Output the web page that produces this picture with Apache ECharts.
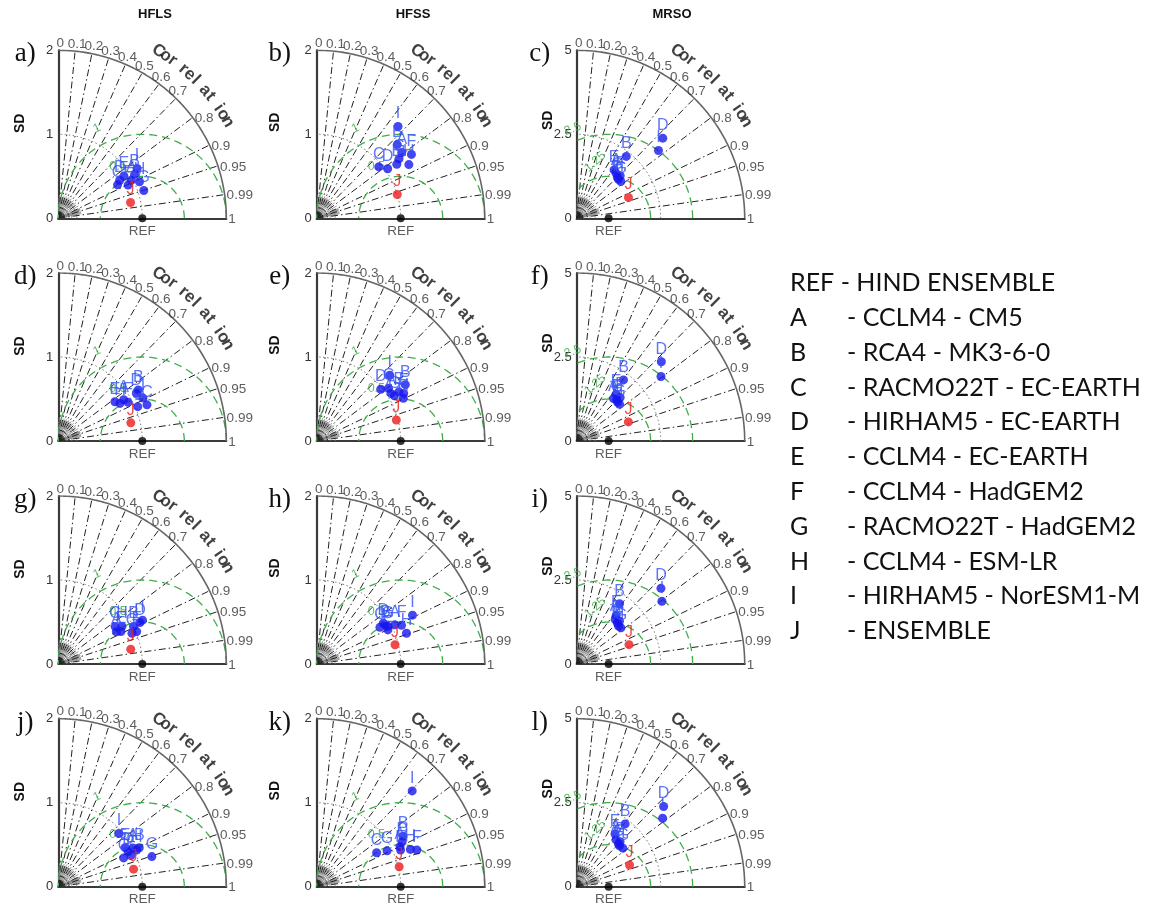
<!DOCTYPE html>
<html>
<head>
<meta charset="utf-8">
<script src="https://cdn.jsdelivr.net/npm/echarts@6/dist/echarts.min.js"></script>
<style>
html,body{margin:0;padding:0;background:#fff}
#chart{width:1164px;height:911px}
</style>
</head>
<body>
<div id="chart"></div>
<script>
// ---- data ----
const variables = ['HFLS', 'HFSS', 'MRSO'];
const panelTags = ['a)', 'b)', 'c)', 'd)', 'e)', 'f)', 'g)', 'h)', 'i)', 'j)', 'k)', 'l)'];
const models = ['A', 'B', 'C', 'D', 'E', 'F', 'G', 'H', 'I', 'J'];
const modelNames = ['CCLM4 - CM5', 'RCA4 - MK3-6-0', 'RACMO22T - EC-EARTH', 'HIRHAM5 - EC-EARTH',
  'CCLM4 - EC-EARTH', 'CCLM4 - HadGEM2', 'RACMO22T - HadGEM2', 'CCLM4 - ESM-LR',
  'HIRHAM5 - NorESM1-M', 'ENSEMBLE'];
const refName = 'HIND ENSEMBLE';
const sdMax = [2, 2, 5];                 // outer SD of each column
const sdTickLabels = [['0', '1', '2'], ['0', '1', '2'], ['0', '2.5', '5']];
const refSD = [1, 1, 0.95];              // reference (REF) standard deviation
const corrTicks = [0, 0.1, 0.2, 0.3, 0.4, 0.5, 0.6, 0.7, 0.8, 0.9, 0.95, 0.99, 1];
const rmsLevels = [[0.5, 1], [0.5, 1], [1.25, 2.5]];

// standard deviation and correlation for A..I and J (ensemble)
const sd_a = [0.98, 1.05, 0.81, 0.86, 0.93, 0.92, 1.07, 1.06, 1.11, 0.88];
const cc_a = [0.886, 0.866, 0.871, 0.850, 0.840, 0.903, 0.951, 0.912, 0.845, 0.977];
const sd_b = [1.28, 1.30, 0.96, 1.03, 1.15, 1.36, 1.21, 1.27, 1.46, 1.00];
const cc_b = [0.791, 0.738, 0.770, 0.820, 0.829, 0.829, 0.810, 0.864, 0.663, 0.959];
const sd_c = [1.78, 2.36, 1.72, 3.50, 1.82, 1.81, 1.71, 1.70, 3.16, 1.66];
const cc_c = [0.658, 0.625, 0.704, 0.732, 0.611, 0.715, 0.768, 0.730, 0.770, 0.928];
const sd_d = [0.92, 1.13, 1.14, 1.09, 0.82, 0.95, 1.03, 0.86, 1.13, 0.89];
const cc_d = [0.846, 0.843, 0.926, 0.853, 0.822, 0.875, 0.918, 0.854, 0.892, 0.970];
const sd_e = [1.05, 1.25, 1.06, 0.98, 1.14, 1.18, 1.07, 1.15, 1.17, 0.98];
const cc_e = [0.842, 0.844, 0.806, 0.778, 0.858, 0.878, 0.864, 0.897, 0.743, 0.967];
const sd_f = [1.67, 2.29, 1.71, 3.45, 1.82, 1.83, 1.68, 1.68, 3.16, 1.64];
const cc_f = [0.655, 0.608, 0.698, 0.730, 0.644, 0.707, 0.759, 0.722, 0.794, 0.938];
const sd_g = [0.79, 1.00, 0.81, 1.09, 0.84, 1.01, 0.95, 0.88, 1.13, 0.88];
const cc_g = [0.875, 0.895, 0.835, 0.892, 0.888, 0.924, 0.923, 0.861, 0.887, 0.980];
const sd_h = [1.04, 0.94, 0.87, 0.93, 0.94, 1.11, 0.96, 1.13, 1.28, 0.96];
const cc_h = [0.894, 0.869, 0.865, 0.852, 0.902, 0.910, 0.883, 0.946, 0.891, 0.971];
const sd_i = [1.75, 2.20, 1.72, 3.37, 1.87, 1.80, 1.70, 1.68, 3.15, 1.66];
const cc_i = [0.654, 0.580, 0.704, 0.744, 0.629, 0.707, 0.774, 0.742, 0.805, 0.938];
const sd_j = [1.00, 1.07, 0.85, 0.93, 0.92, 0.94, 1.17, 1.03, 0.96, 0.92];
const cc_j = [0.887, 0.901, 0.915, 0.894, 0.863, 0.919, 0.952, 0.906, 0.751, 0.974];
const sd_k = [1.10, 1.19, 0.82, 1.15, 1.09, 1.27, 0.94, 1.20, 1.61, 1.01];
const cc_k = [0.901, 0.863, 0.870, 0.885, 0.916, 0.939, 0.891, 0.929, 0.706, 0.972];
const sd_l = [1.82, 2.36, 1.78, 3.52, 1.94, 1.86, 1.79, 1.76, 3.27, 1.70];
const cc_l = [0.644, 0.611, 0.699, 0.735, 0.588, 0.694, 0.768, 0.724, 0.782, 0.925];

const panelSD = [sd_a, sd_b, sd_c, sd_d, sd_e, sd_f, sd_g, sd_h, sd_i, sd_j, sd_k, sd_l];
const panelCC = [cc_a, cc_b, cc_c, cc_d, cc_e, cc_f, cc_g, cc_h, cc_i, cc_j, cc_k, cc_l];

// ---- layout ----
const SIZE = 168;
const colX = [58.3, 316.7, 576.7];
const rowY = [218.3, 441, 664, 886.7];
const BLUE = '#1616ee', BLUE_TXT = '#3552f5', RED = '#ee1c1c', GREEN = '#3fae49';
const rad = d => d * Math.PI / 180;

function polar(r, c) { return [r * c, r * Math.sqrt(Math.max(0, 1 - c * c))]; }
function arc(r, a0, a1, step) {
  const pts = [];
  for (let a = a0; a <= a1 + 1e-9; a += step) pts.push([r * Math.cos(rad(a)), r * Math.sin(rad(a))]);
  return pts;
}
function rmsArc(ref, R, M) {
  const pts = [];
  for (let a = 0; a <= 180; a += 1) {
    const x = ref + R * Math.cos(rad(a)), y = R * Math.sin(rad(a));
    if (x >= 0 && x * x + y * y <= M * M * 1.0001) pts.push([x, y]);
  }
  return pts;
}

const grids = [], xAxes = [], yAxes = [], series = [], graphics = [];
const rayCorr = [0.1, 0.2, 0.3, 0.4, 0.5, 0.6, 0.7, 0.8, 0.9, 0.95, 0.99];
const fanCorr = [0.05, 0.15, 0.25, 0.35, 0.45, 0.55, 0.65, 0.75, 0.85, 0.91, 0.92, 0.93, 0.94, 0.96, 0.97, 0.98];
const word = 'Correlation'.split('');
const wordGapAfter = [2, 5, 7];

panelTags.forEach((tag, i) => {
  const col = i % 3, row = Math.floor(i / 3);
  const M = sdMax[col], ref = refSD[col];
  const ox = colX[col], oy = rowY[row];
  const base = {xAxisIndex: i, yAxisIndex: i, silent: true};
  grids.push({left: ox, top: oy - SIZE, width: SIZE, height: SIZE});
  xAxes.push({gridIndex: i, type: 'value', min: 0, max: M, axisLabel: {show: false},
    axisTick: {show: false}, splitLine: {show: false},
    axisLine: {lineStyle: {color: '#3a3a3a', width: 2.2}}});
  yAxes.push({gridIndex: i, type: 'value', min: 0, max: M, interval: M / 2,
    axisTick: {show: false}, splitLine: {show: false},
    axisLine: {lineStyle: {color: '#3a3a3a', width: 2.2}},
    axisLabel: {color: '#333', fontSize: 13, fontFamily: 'Liberation Sans', margin: 5,
      formatter: v => sdTickLabels[col][Math.round(v / (M / 2))]}});

  // small fan near the origin
  series.push(Object.assign({type: 'lines', coordinateSystem: 'cartesian2d', z: 2,
    lineStyle: {color: '#888', width: 0.8, opacity: 1},
    data: fanCorr.map(c => ({coords: [[0, 0], polar(0.14 * M, c)]}))
      .concat([0.05, 0.08, 0.11].map(f => ({coords: arc(f * M, 0, 90, 5)})))}, base, {polyline: true}));
  // correlation rays
  series.push(Object.assign({type: 'lines', coordinateSystem: 'cartesian2d', z: 3,
    lineStyle: {color: '#222', width: 1, opacity: 1, type: [7, 3, 1.5, 3]},
    data: rayCorr.map(c => ({coords: [[0, 0], polar(M, c)]}))}, base));
  // dotted SD arc through the middle tick
  series.push(Object.assign({type: 'lines', coordinateSystem: 'cartesian2d', polyline: true, z: 3,
    lineStyle: {color: '#777', width: 1, opacity: 1, type: [1.5, 2.5]},
    data: [{coords: arc(M / 2, 0, 90, 1)}]}, base));
  // centred RMS difference arcs
  series.push(Object.assign({type: 'lines', coordinateSystem: 'cartesian2d', polyline: true, z: 4,
    lineStyle: {color: GREEN, width: 1.3, opacity: 1, type: [8, 5]},
    data: rmsLevels[col].map(R => ({coords: rmsArc(ref, R, M)}))}, base));
  // outer SD arc
  series.push(Object.assign({type: 'lines', coordinateSystem: 'cartesian2d', polyline: true, z: 5,
    lineStyle: {color: '#666', width: 1.6, opacity: 1},
    data: [{coords: arc(M, 0, 90, 0.5)}]}, base));

  // correlation tick labels
  series.push(Object.assign({type: 'scatter', symbolSize: 0, clip: false, z: 6,
    data: corrTicks.map(c => {
      const ang = Math.acos(c) * 180 / Math.PI;
      const right = ang < 40;
      return {name: String(c), value: polar(M, c),
        label: {align: right ? 'left' : 'center', verticalAlign: right ? 'middle' : 'bottom',
          offset: right ? [2, 1] : [2, 0]}};
    }),
    label: {show: true, position: 'inside', formatter: '{b}', color: '#333', fontSize: 13.5,
      fontFamily: 'Liberation Sans'}}, base));

  // curved "Correlation" caption
  let ang = 59;
  const letters = word.map((ch, k) => {
    const a = ang;
    ang -= 2.45 + (wordGapAfter.includes(k) ? 1.6 : 0);
    return {name: ch, value: [1.16 * M * Math.cos(rad(a)), 1.16 * M * Math.sin(rad(a))],
      label: {rotate: a - 90}};
  });
  series.push(Object.assign({type: 'scatter', symbolSize: 0, clip: false, z: 6, data: letters,
    label: {show: true, position: 'inside', formatter: '{b}', color: '#111', fontSize: 17,
      fontWeight: 'bold', fontFamily: 'Liberation Sans', align: 'center', verticalAlign: 'middle'}}, base));

  // RMS arc labels
  const rmsLab = col < 2
    ? [{name: '1', value: [0.46, 1.07], label: {rotate: 25}}, {name: '0.5', value: [0.71, 0.62], label: {rotate: 0}}]
    : [{name: '2.5', value: [-0.12, 2.66], label: {rotate: 20}}, {name: '1.25', value: [0.55, 1.68], label: {rotate: 42}}];
  series.push(Object.assign({type: 'scatter', symbolSize: 0, clip: false, z: 6, data: rmsLab,
    label: {show: true, position: 'inside', formatter: '{b}', color: GREEN, fontSize: 12.5,
      fontFamily: 'Liberation Sans'}}, base));

  // reference point
  series.push(Object.assign({type: 'scatter', clip: false, z: 8, symbolSize: 8,
    itemStyle: {color: '#000'}, data: [{name: 'REF', value: [ref, 0]}],
    label: {show: true, position: 'bottom', distance: 2, formatter: '{b}', color: '#333',
      fontSize: 13.5, fontFamily: 'Liberation Sans'}}, base));

  // models and ensemble
  const sds = panelSD[i], ccs = panelCC[i];
  series.push(Object.assign({type: 'scatter', clip: false, z: 9, symbolSize: 9,
    itemStyle: {color: BLUE},
    data: models.slice(0, 9).map((m, k) => ({name: m, value: polar(sds[k], ccs[k])})),
    label: {show: true, position: 'top', distance: 0, formatter: '{b}', color: BLUE_TXT,
      fontSize: 16, fontFamily: 'Liberation Sans'}}, base));
  series.push(Object.assign({type: 'scatter', clip: false, z: 9, symbolSize: 9,
    itemStyle: {color: RED},
    data: [{name: 'J', value: polar(sds[9], ccs[9])}],
    label: {show: true, position: 'top', distance: 0, formatter: '{b}', color: RED,
      fontSize: 16, fontFamily: 'Liberation Sans'}}, base));

  // panel tag and SD axis title
  const tagDx = [33, 37, 37][col];
  graphics.push({type: 'text', x: ox - tagDx, y: oy - 164, z: 10,
    style: {text: tag, fill: '#111', font: '27px "Liberation Serif"', textAlign: 'center', textVerticalAlign: 'middle'}});
  const sdDx = [38, 42, 29][col], sdDy = [95, 96, 98][col];
  graphics.push({type: 'text', x: ox - sdDx, y: oy - sdDy, rotation: Math.PI / 2, z: 10,
    style: {text: 'SD', fill: '#111', font: 'bold 14px "Liberation Sans"', textAlign: 'center', textVerticalAlign: 'middle'}});
});

// column titles
const titleX = [155, 413, 672];
variables.forEach((v, c) => graphics.push({type: 'text', x: titleX[c], y: 14,
  style: {text: v, fill: '#111', font: 'bold 13px "Liberation Sans"', textAlign: 'center', textVerticalAlign: 'middle'}}));

// legend
const LEG_FONT = '25px Lato';
graphics.push({type: 'text', x: 790, y: 283,
  style: {text: 'REF - ' + refName, fill: '#111', font: LEG_FONT, textVerticalAlign: 'middle'}});
models.forEach((m, k) => {
  const y = 318 + k * 34.8;
  graphics.push({type: 'text', x: 790, y, style: {text: m, fill: '#111', font: LEG_FONT, textVerticalAlign: 'middle'}});
  graphics.push({type: 'text', x: 847, y, style: {text: '- ' + modelNames[k], fill: '#111', font: LEG_FONT, textVerticalAlign: 'middle'}});
});

const chart = echarts.init(document.getElementById('chart'), null, {renderer: 'canvas'});
chart.setOption({
  backgroundColor: '#fff',
  animation: false,
  grid: grids, xAxis: xAxes, yAxis: yAxes, series, graphic: graphics
});
</script>
</body>
</html>
